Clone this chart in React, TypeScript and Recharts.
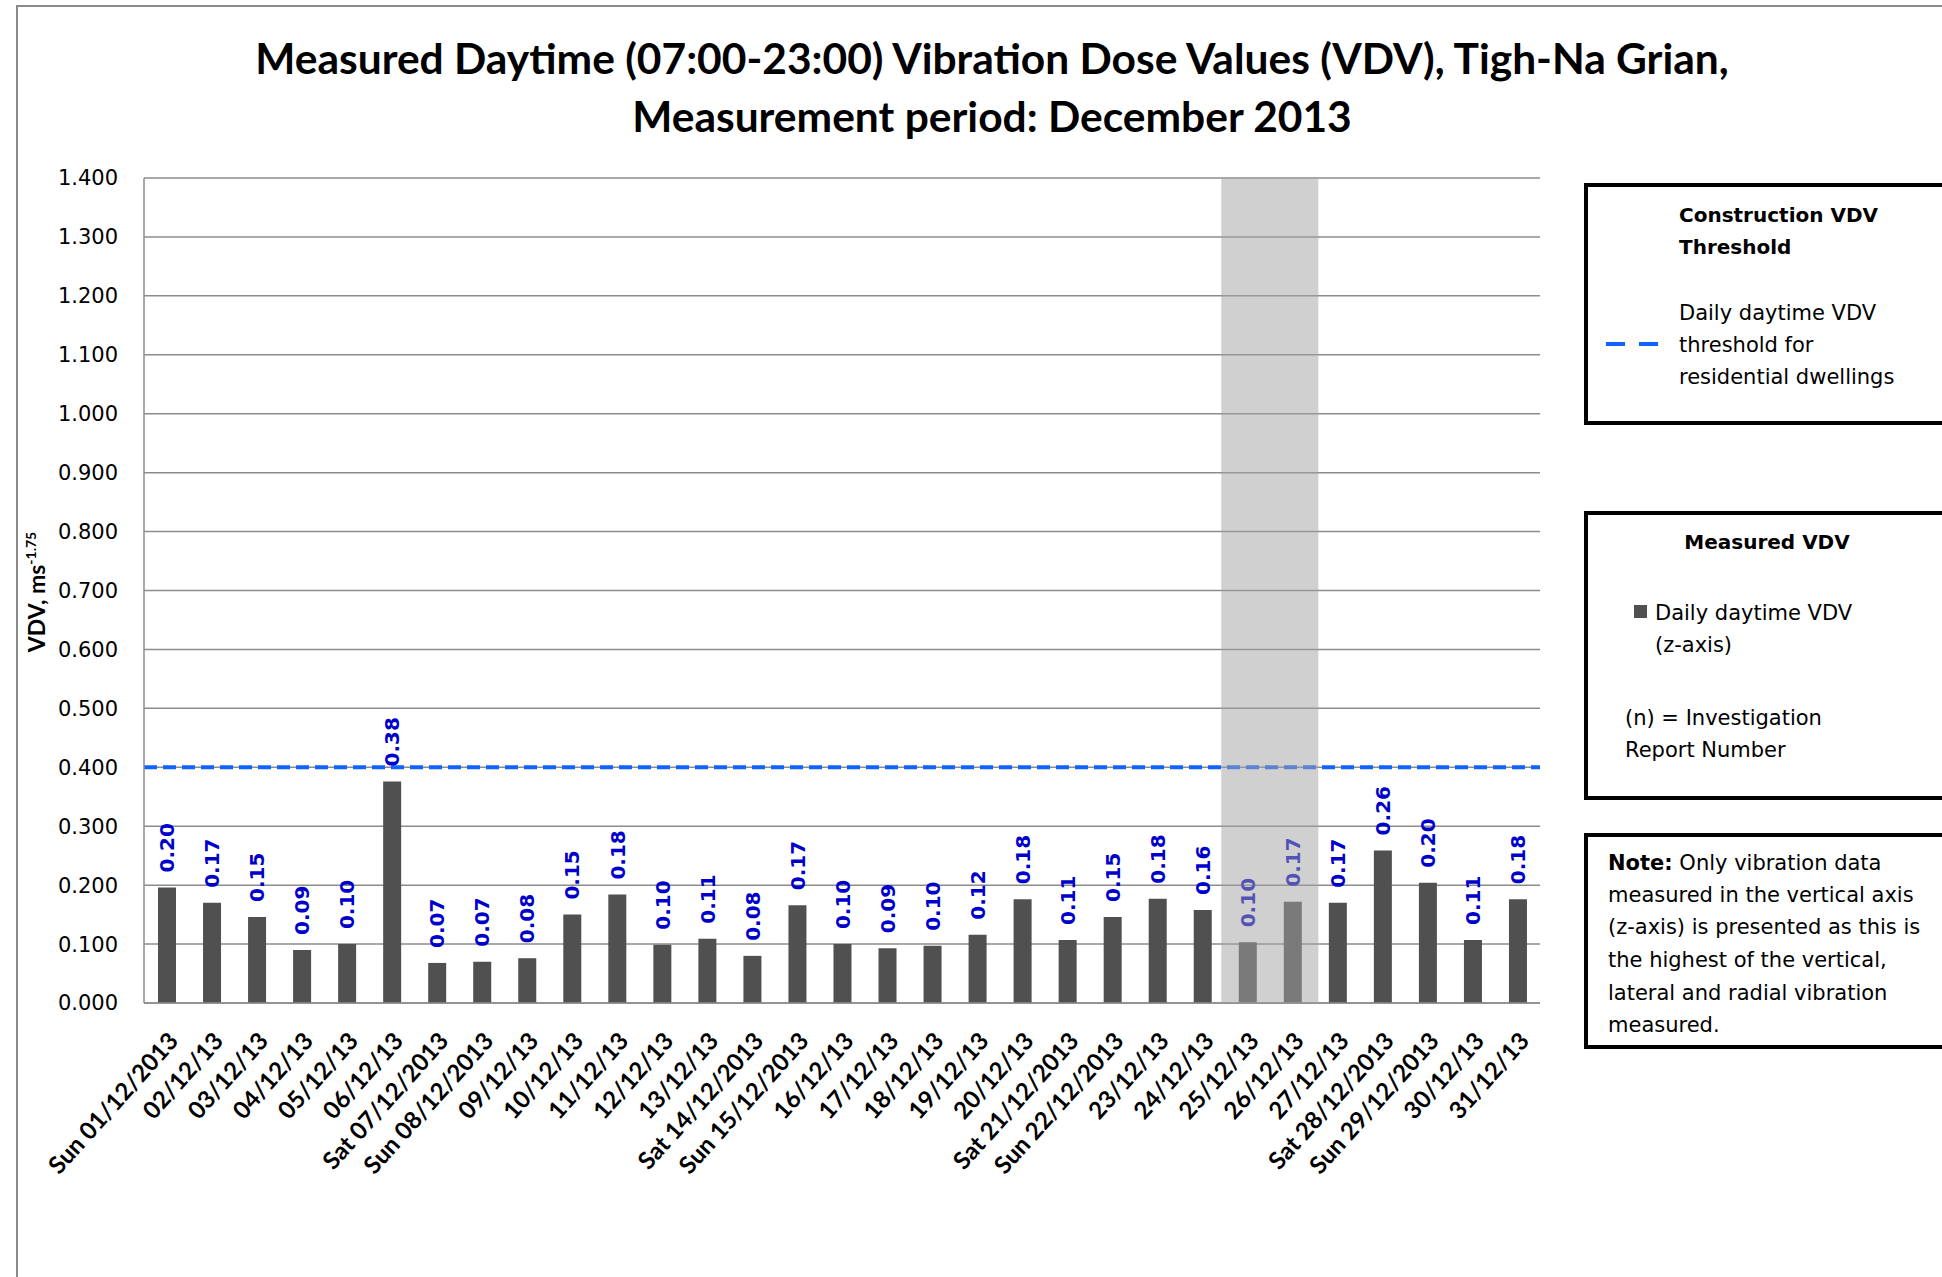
import {
  BarChart, Bar, XAxis, YAxis, CartesianGrid,
  ReferenceLine, ReferenceArea, LabelList,
} from 'recharts';

// one bar per day, December 2013
const dates = [
  'Sun 01/12/2013', '02/12/13', '03/12/13', '04/12/13', '05/12/13', '06/12/13',
  'Sat 07/12/2013', 'Sun 08/12/2013', '09/12/13', '10/12/13', '11/12/13', '12/12/13',
  '13/12/13', 'Sat 14/12/2013', 'Sun 15/12/2013', '16/12/13', '17/12/13', '18/12/13',
  '19/12/13', '20/12/13', 'Sat 21/12/2013', 'Sun 22/12/2013', '23/12/13', '24/12/13',
  '25/12/13', '26/12/13', '27/12/13', 'Sat 28/12/2013', 'Sun 29/12/2013', '30/12/13',
  '31/12/13',
];
const vdv = [
  0.196, 0.17, 0.146, 0.09, 0.1, 0.376,
  0.068, 0.07, 0.076, 0.15, 0.184, 0.099,
  0.109, 0.08, 0.166, 0.1, 0.093, 0.097,
  0.116, 0.176, 0.107, 0.146, 0.177, 0.158,
  0.103, 0.172, 0.17, 0.259, 0.204, 0.107,
  0.176,
];
const yTicks = [0, 0.1, 0.2, 0.3, 0.4, 0.5, 0.6, 0.7, 0.8, 0.9, 1.0, 1.1, 1.2, 1.3, 1.4];
const threshold = 0.4;
const holidayStart = '25/12/13';
const holidayEnd = '26/12/13';

const data = dates.map((d, i) => ({ date: d, vdv: vdv[i] }));

const GRID = '#8c8c8c';
const BAR = '#505050';
const BLUE = '#1163ff';
const LABEL_BLUE = '#0000cc';

const XTick = (props: any) => {
  const { x, y, payload } = props;
  return (
    <g transform={`translate(${x + 13},${y + 39}) rotate(-48)`}>
      <text x={0} y={0} textAnchor="end" fill="#000" fontFamily="Lato" fontWeight={700} fontSize={24}>
        {payload.value}
      </text>
    </g>
  );
};

const ValueLabel = (props: any) => {
  const { x, y, width, value } = props;
  const cx = x + width / 2;
  return (
    <g transform={`translate(${cx},${y - 15}) rotate(-90)`}>
      <text x={0} y={0} dy="0.36em" textAnchor="start" fill={LABEL_BLUE}
        fontFamily="DejaVu Sans" fontWeight={700} fontSize={20}>
        {Number(value).toFixed(2)}
      </text>
    </g>
  );
};

const YTitle = () => (
  <text transform="translate(45,592) rotate(-90)" textAnchor="middle" fill="#000"
    fontFamily="Lato" fontWeight={700} fontSize={23}>
    VDV, ms<tspan fontSize={14} dy={-9}>-1.75</tspan>
  </text>
);

// shaded Christmas band, slightly wider than the two category slots
const Shade = (props: any) => {
  const { x, y, width, height } = props;
  return <rect x={x - 3.5} y={y} width={width + 7} height={height} fill="#a3a3a3" fillOpacity={0.51} />;
};

const line = (top: number, left: number, text: any, extra: any = {}) => (
  <div style={{ position: 'absolute', top: top - 19, left, lineHeight: '32px', whiteSpace: 'nowrap', ...extra }}>
    {text}
  </div>
);

export default function App() {
  const box = {
    position: 'absolute' as const,
    left: 1584,
    width: 420,
    border: '4px solid #000',
    boxSizing: 'border-box' as const,
    background: '#fff',
  };
  return (
    <div style={{ position: 'absolute', left: 0, top: 0, width: 1942, height: 1277, background: '#fff', overflow: 'hidden' }}>
      <div style={{ position: 'absolute', left: 16, top: 5, width: 2000, height: 1400, borderTop: '2px solid #8a8a8a', borderLeft: '2px solid #8a8a8a' }} />
      <div style={{
        position: 'absolute', left: 0, top: 29, width: 1984, textAlign: 'center',
        fontFamily: 'Lato', fontWeight: 700, fontSize: 42.5, lineHeight: '58px', color: '#000',
      }}>
        Measured Daytime (07:00-23:00) Vibration Dose Values (VDV), Tigh-Na Grian,<br />
        Measurement period: December 2013
      </div>

      <div style={{ position: 'absolute', left: 0, top: 0 }}>
        <BarChart width={1942} height={1277} data={data}
          margin={{ top: 178, right: 402, bottom: 0, left: 0 }} barCategoryGap={0}>
          <CartesianGrid vertical={false} stroke={GRID} strokeWidth={1.5} />
          <XAxis dataKey="date" interval={0} height={274} tickLine={false} tickSize={0}
            tickMargin={0} axisLine={{ stroke: GRID, strokeWidth: 1.5 }} tick={<XTick />} />
          <YAxis domain={[0, 1.4]} ticks={yTicks} tickFormatter={(v: number) => v.toFixed(3)}
            width={144} tickLine={false} tickSize={0} tickMargin={26}
            axisLine={{ stroke: GRID, strokeWidth: 1.5 }}
            tick={{ fill: '#000', fontFamily: 'DejaVu Sans', fontSize: 21 }}
            label={<YTitle />} />
          <ReferenceLine y={threshold} stroke={BLUE} strokeWidth={4} strokeDasharray="13 6" />
          <Bar dataKey="vdv" fill={BAR} barSize={18} isAnimationActive={false}>
            <LabelList dataKey="vdv" content={<ValueLabel />} />
          </Bar>
          <ReferenceArea x1={holidayStart} x2={holidayEnd} shape={<Shade />}
            stroke="none" zIndex={2500} />
        </BarChart>
      </div>

      <div style={{ ...box, top: 183, height: 242, fontFamily: 'DejaVu Sans', fontSize: 21 }}>
        {line(214 - 183, 1679 - 1588, <b style={{ fontSize: 20 }}>Construction VDV</b>)}
        {line(246 - 183, 1679 - 1588, <b style={{ fontSize: 20 }}>Threshold</b>)}
        {line(312 - 183, 1679 - 1588, 'Daily daytime VDV')}
        {line(344 - 183, 1679 - 1588, 'threshold for')}
        {line(376 - 183, 1679 - 1588, 'residential dwellings')}
        <svg style={{ position: 'absolute', left: 1606 - 1588, top: 344 - 187 - 3 }} width={56} height={6}>
          <line x1={0} y1={3} x2={53} y2={3} stroke={BLUE} strokeWidth={4} strokeDasharray="19 14" />
        </svg>
      </div>

      <div style={{ ...box, top: 511, height: 289, fontFamily: 'DejaVu Sans', fontSize: 21 }}>
        {line(541 - 511, 0, <b style={{ fontSize: 20 }}>Measured VDV</b>, { width: 1767 * 2 - 1588 * 2, textAlign: 'center' })}
        <div style={{ position: 'absolute', left: 1634 - 1588, top: 612 - 515 - 7, width: 13, height: 13, background: BAR }} />
        {line(612 - 511, 1655 - 1588, 'Daily daytime VDV')}
        {line(644 - 511, 1655 - 1588, '(z-axis)')}
        {line(717 - 511, 1625 - 1588, '(n) = Investigation')}
        {line(749 - 511, 1625 - 1588, 'Report Number')}
      </div>

      <div style={{ ...box, top: 833, height: 216, fontFamily: 'DejaVu Sans', fontSize: 21 }}>
        {line(862 - 833, 1608 - 1588, <span><b>Note:</b> Only vibration data</span>)}
        {line(894 - 833, 1608 - 1588, 'measured in the vertical axis')}
        {line(926 - 833, 1608 - 1588, '(z-axis) is presented as this is')}
        {line(959 - 833, 1608 - 1588, 'the highest of the vertical,')}
        {line(992 - 833, 1608 - 1588, 'lateral and radial vibration')}
        {line(1024 - 833, 1608 - 1588, 'measured.')}
      </div>
    </div>
  );
}
